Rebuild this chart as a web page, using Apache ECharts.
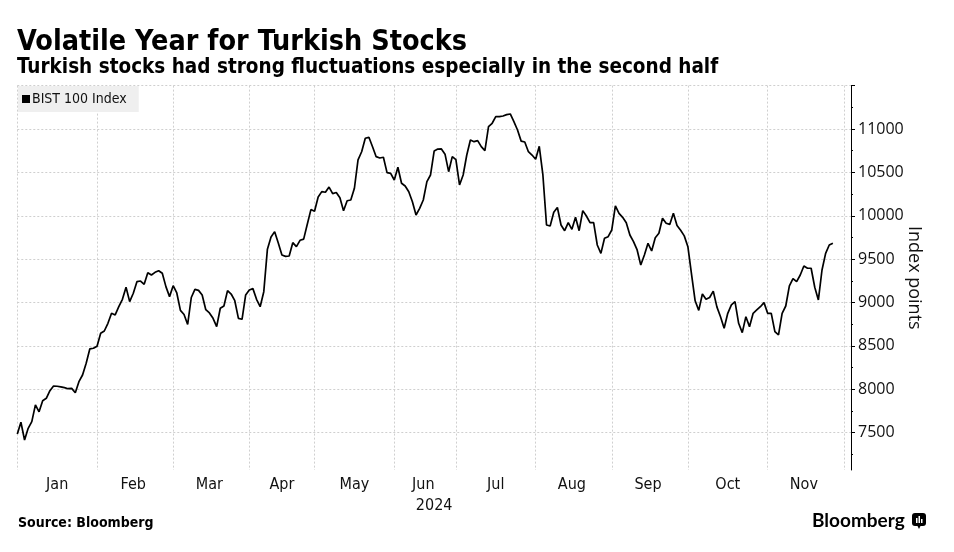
<!DOCTYPE html>
<html>
<head>
<meta charset="utf-8">
<script src="https://cdn.jsdelivr.net/npm/echarts@6/dist/echarts.min.js"></script>
<style>
  html, body { margin: 0; padding: 0; background: #fff; }
  #chart { width: 954px; height: 552px; }
</style>
</head>
<body>
<div id="chart"></div>
<script>
// ---- Data ----
const months = ['Jan','Feb','Mar','Apr','May','Jun','Jul','Aug','Sep','Oct','Nov','Dec'];
const tradingDays = [22,21,21,18,22,17,22,21,21,22,21,3];
const seriesName = 'BIST 100 Index';
const bist100 = [
  7485,7620,7416,7550,7627,7820,7740,7869,7896,7984,8038,8035,8027,8019,8007,8011,7961,8088,8165,8300,8465,8473,
  8496,8645,8672,8761,8876,8857,8952,9037,9176,9010,9107,9240,9248,9210,9344,9317,9348,9367,9337,9183,9068,
  9194,9110,8910,8862,8747,9058,9152,9140,9086,8917,8880,8818,8722,8934,8960,9137,9098,9021,8818,8807,9087,
  9144,9160,9037,8952,9125,9615,9755,9817,9687,9548,9532,9536,9690,9644,9717,9731,9903,10071,
  10051,10216,10278,10271,10331,10255,10268,10207,10058,10173,10182,10317,10643,10738,10893,10904,10796,10681,10666,10674,10497,10489,
  10412,10559,10374,10343,10277,10162,10009,10086,10182,10393,10470,10746,10769,10770,10710,10508,10681,
  10647,10355,10470,10700,10873,10854,10866,10796,10750,11027,11066,11142,11142,11150,11165,11173,11084,10988,10860,10850,10738,10700,
  10651,10800,10470,9894,9882,10040,10095,9894,9828,9920,9844,9982,9828,10059,9997,9920,9920,9663,9567,9740,9759,
  9836,10113,10028,9982,9920,9778,9702,9606,9433,9548,9683,9594,9747,9798,9971,9913,9900,10028,9888,9832,9768,
  9644,9327,9020,8910,9098,9037,9058,9131,8950,8837,8703,8876,8972,9010,8761,8653,8837,8722,8876,8914,8952,8999,
  8876,8876,8664,8626,8876,8960,9191,9275,9240,9317,9421,9395,9395,9176,9030,9375,9567,9663,9683
];
const yMin = 7070, yMax = 11500;
const yLabelValues = [7500,8000,8500,9000,9500,10000,10500,11000];
const yMajorTicks = [7500,8000,8500,9000,9500,10000,10500,11000,11500];
const yMinorTicks = [7250,7750,8250,8750,9250,9750,10250,10750,11250];
const yGridValues = [7500,8000,8500,9000,9500,10000,10500,11000,11500];

// ---- Build categories (trading days grouped by month) ----
const categories = [];
const monthStart = [];
const monthLabelIdx = {};
months.forEach((m, mi) => {
  monthStart.push(categories.length);
  if (tradingDays[mi] >= 10) monthLabelIdx[categories.length + Math.floor(tradingDays[mi] / 2)] = m;
  for (let d = 1; d <= tradingDays[mi]; d++) categories.push(m + ' ' + d);
});

const condensed = '"Liberation Sans Narrow", "DejaVu Sans Condensed", "Roboto Condensed", "Arial Narrow", sans-serif';
const gridLineStyle = { color: '#cfcfcf', type: [2, 2], width: 1 };

const chart = echarts.init(document.getElementById('chart'), null, { renderer: 'canvas' });
chart.setOption({
  animation: false,
  backgroundColor: '#fff',
  title: [
    { text: 'Volatile Year for Turkish Stocks', left: 17, top: 28, padding: 0,
      textStyle: { fontFamily: condensed, fontWeight: 'bold', fontSize: 28.5, color: '#000' } },
    { text: 'Turkish stocks had strong fluctuations especially in the second half', left: 17, top: 57, padding: 0,
      textStyle: { fontFamily: condensed, fontWeight: 'bold', fontSize: 20.5, color: '#000' } },
    { text: 'Source: Bloomberg', left: 18, top: 516, padding: 0,
      textStyle: { fontFamily: condensed, fontWeight: 'bold', fontSize: 14, color: '#000' } },
    { text: 'Bloomberg', left: 812, top: 511, padding: 0,
      textStyle: { fontFamily: '"Lato", "Open Sans", sans-serif', fontWeight: 'bold', fontSize: 19, color: '#000' } }
  ],
  legend: {
    left: 18, top: 86,
    data: [seriesName],
    icon: 'rect', itemWidth: 8, itemHeight: 8, itemGap: 0,
    backgroundColor: '#efefef',
    padding: [6, 12, 6, 4],
    textStyle: { fontFamily: '"DejaVu Sans Condensed", ' + condensed, fontSize: 14, color: '#111', padding: [0, 0, 0, -3] },
    selectedMode: false
  },
  grid: { left: 17.3, right: 103, top: 85.6, bottom: 82, containLabel: false },
  xAxis: {
    type: 'category',
    data: categories,
    boundaryGap: false,
    axisLine: { show: false },
    axisTick: { show: false },
    axisLabel: {
      interval: (idx) => monthLabelIdx[idx] !== undefined,
      formatter: (v) => v.split(' ')[0],
      margin: 7,
      fontFamily: condensed, fontSize: 16, color: '#111'
    },
    splitLine: {
      show: true,
      interval: (idx) => monthStart.includes(idx),
      lineStyle: gridLineStyle
    },
    name: '2024', nameLocation: 'middle', nameGap: 26,
    nameTextStyle: { fontFamily: condensed, fontSize: 16, color: '#111' }
  },
  yAxis: [
    {
      type: 'value', position: 'right', min: yMin, max: yMax,
      axisLine: { show: true, lineStyle: { color: '#000', width: 1 } },
      axisTick: { show: true, length: 4, customValues: yMajorTicks, lineStyle: { color: '#000' } },
      axisLabel: { customValues: yLabelValues, margin: 7, formatter: (v) => String(v),
        fontFamily: '"Open Sans", sans-serif', fontSize: 16, color: '#111' },
      splitLine: { show: false },
      name: 'Index points', nameLocation: 'middle', nameRotate: -90, nameGap: 54,
      nameMoveOverlap: false,
      nameTextStyle: { fontFamily: '"Open Sans", sans-serif', fontSize: 18, color: '#111' }
    },
    {
      type: 'value', position: 'right', min: yMin, max: yMax,
      axisLine: { show: false },
      axisTick: { show: true, length: 2, customValues: yMinorTicks, lineStyle: { color: '#000' } },
      axisLabel: { show: false },
      splitLine: { show: false }
    }
  ],
  series: [
    {
      name: seriesName,
      type: 'line',
      data: bist100,
      yAxisIndex: 0,
      showSymbol: false,
      symbol: 'none',
      z: 3,
      lineStyle: { color: '#000', width: 1.7 },
      itemStyle: { color: '#000' },
      markLine: {
        silent: true, symbol: 'none', z: 1,
        label: { show: false },
        lineStyle: gridLineStyle,
        data: yGridValues.map(v => ({ yAxis: v }))
      }
    }
  ],
  graphic: [
    {
      type: 'group', left: 912, top: 513,
      children: [
        { type: 'rect', shape: { x: 0, y: 0, width: 14, height: 13, r: 3 }, style: { fill: '#000' } },
        { type: 'polygon', shape: { points: [[5, 12], [9, 12], [7, 16]] }, style: { fill: '#000' } },
        { type: 'rect', shape: { x: 4, y: 5, width: 1.5, height: 5 }, style: { fill: '#fff' } },
        { type: 'rect', shape: { x: 6.5, y: 3, width: 1.5, height: 7 }, style: { fill: '#fff' } },
        { type: 'rect', shape: { x: 9, y: 6, width: 1.5, height: 4 }, style: { fill: '#fff' } }
      ]
    }
  ]
});
</script>
</body>
</html>
